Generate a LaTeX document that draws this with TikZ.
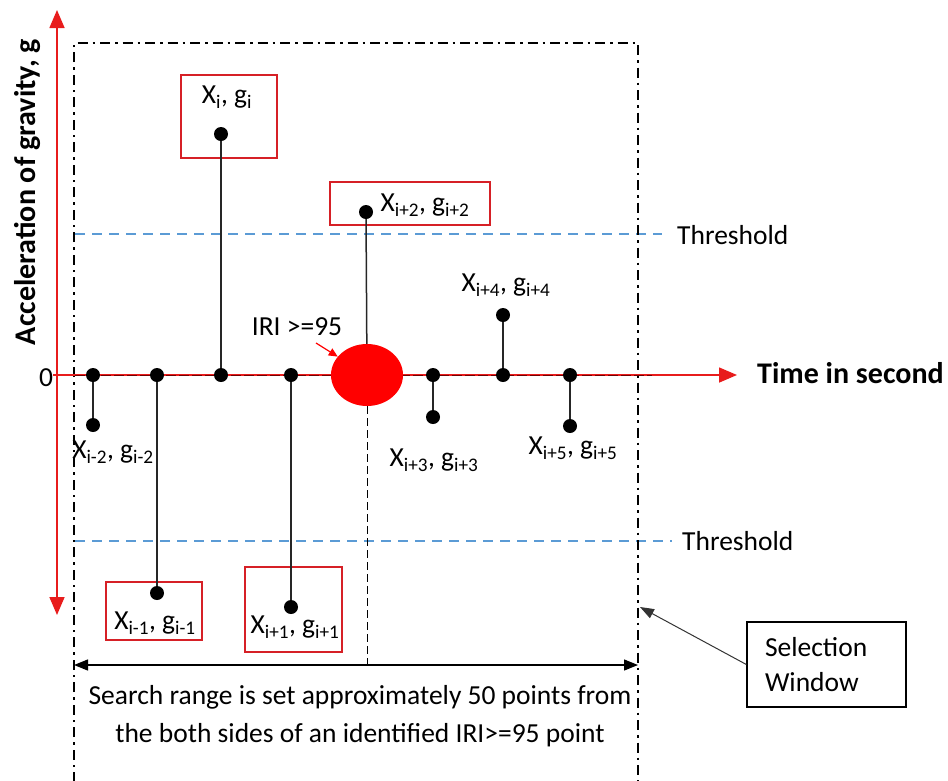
\documentclass[tikz,border=0pt]{standalone}
\usepackage{fontspec}
\setmainfont{Carlito}
\usetikzlibrary{arrows.meta,shapes.geometric}

\definecolor{axisred}{RGB}{232,28,28}
\definecolor{boxred}{RGB}{214,32,38}
\definecolor{threshblue}{RGB}{91,155,213}

% point label with subscripts
\newcommand{\xg}[1]{X\textsubscript{#1}, g\textsubscript{#1}}

\begin{document}
\begin{tikzpicture}[
        x=1pt, y=-1pt,
        every node/.style={font=\fontsize{27.5}{38}\selectfont, inner sep=0pt},
        dot/.style={circle, fill=black, minimum size=14pt, inner sep=0pt},
        stem/.style={line width=1.5pt, black!85},
        redbox/.style={draw=boxred, line width=2.5pt},
        thresh/.style={line width=1.8pt, threshblue, dash pattern=on 10pt off 7pt},
        axis/.style={line width=1.6pt, axisred},
        window/.style={line width=2.8pt, dash pattern=on 10pt off 5pt on 2.5pt off 5pt},
        bold/.style={font=\fontsize{30}{36}\selectfont\bfseries}
    ]

    \useasboundingbox (0,0) rectangle (948,780);

    % Threshold lines
    \coordinate (t1s) at (75,234);
    \coordinate (t1e) at (662,234);
    \coordinate (t2s) at (75,541);
    \coordinate (t2e) at (672,541);
    \draw[thresh] (t1s) -- (t1e);
    \draw[thresh] (t2s) -- (t2e);
    \node[anchor=west] (th1) at (677,235) {Threshold};
    \node[anchor=west] (th2) at (682,541) {Threshold};

    % Selection window
    \draw[window] (74,782) -- (74,43) -- (638,43) -- (638,782);

    % Axes
    \coordinate (yb) at (57,615);
    \coordinate (yt) at (57,10);
    \coordinate (xs) at (53,375);
    \coordinate (xe) at (737,375);
    \draw[axis, {Triangle[length=18pt,width=15pt]}-{Triangle[length=18pt,width=15pt]}] (yb) -- (yt);
    \draw[axis, -{Triangle[length=18pt,width=15pt]}] (xs) -- (xe);
    \coordinate (ds) at (75,375);
    \coordinate (de) at (652,375);
    \draw[red!45!black, line width=1pt, dash pattern=on 10pt off 3pt] (ds) -- (de);
    \node (zero) at (46,378) {0};
    \node[bold, anchor=west] (xlab) at (757,373) {Time in second};
    \node[bold, rotate=90] (ylab) at (27,192) {Acceleration of gravity, g};

    % Boxes round the selected points
    \node[redbox, minimum width=96pt, minimum height=58pt] (B2) at (154,611) {};
    \node[redbox, minimum width=96pt, minimum height=83pt] (B3) at (229,116.5) {};
    \node[redbox, minimum width=97pt, minimum height=85pt] (B4) at (293.5,609.5) {};
    \node[redbox, minimum width=160pt, minimum height=43pt] (B5) at (410,203.5) {};

    % IRI point
    \node[ellipse, fill=red, minimum width=72pt, minimum height=62pt] (irr) at (367,375) {};
    \node (iri) at (297,327) {IRI >=95};
    \coordinate (ia) at (316,343);
    \draw[red, line width=1.2pt, -{Triangle[length=9pt,width=8pt]}] (ia) -- (irr);

    % Samples on the axis and their values
    \foreach \n/\x/\y in {1/93/425, 2/157/593, 3/221/134, 4/291/607, 6/433/417, 7/503/315, 8/570/426} {
        \node[dot] (A\n) at (\x,375) {};
        \node[dot] (P\n) at (\x,\y) {};
        \draw[stem] (A\n) -- (P\n);
    }
    \node[dot] (P5) at (366,212) {};
    \draw[stem] (P5) -- (irr);

    % Point labels
    \node (L1) at (113,452) {\xg{i-2}};
    \node (L2) at (155,623) {\xg{i-1}};
    \node (L3) at (227,97) {\xg{i}};
    \node (L4) at (295,627) {\xg{i+1}};
    \node (L5) at (425,205) {\xg{i+2}};
    \node (L6) at (434,460) {\xg{i+3}};
    \node (L7) at (506,285) {\xg{i+4}};
    \node (L8) at (573,448) {\xg{i+5}};

    % Search range
    \coordinate (sl) at (74,665);
    \coordinate (sr) at (638,665);
    \coordinate (sm) at (367,665);
    \draw[line width=1pt, dash pattern=on 8pt off 4pt] (irr) -- (sm);
    \draw[line width=1.3pt, {Triangle[length=14pt,width=11pt]}-{Triangle[length=14pt,width=11pt]}] (sl) -- (sr);
    \node[align=center] (range) at (360,716) {Search range is set approximately 50 points from\\the both sides of an identified IRI>=95 point};

    % Selection window callout
    \node[draw, line width=1.3pt, align=left, text width=123pt, inner xsep=18pt, minimum height=85pt,
          font=\fontsize{27.5}{35}\selectfont] (sel) at (826.5,664.5) {Selection\\Window};
    \coordinate (swin) at (640,607);
    \draw[line width=1pt, black!80, -{Triangle[length=14pt,width=10pt]}] (sel.west) -- (swin);

\end{tikzpicture}
\end{document}
